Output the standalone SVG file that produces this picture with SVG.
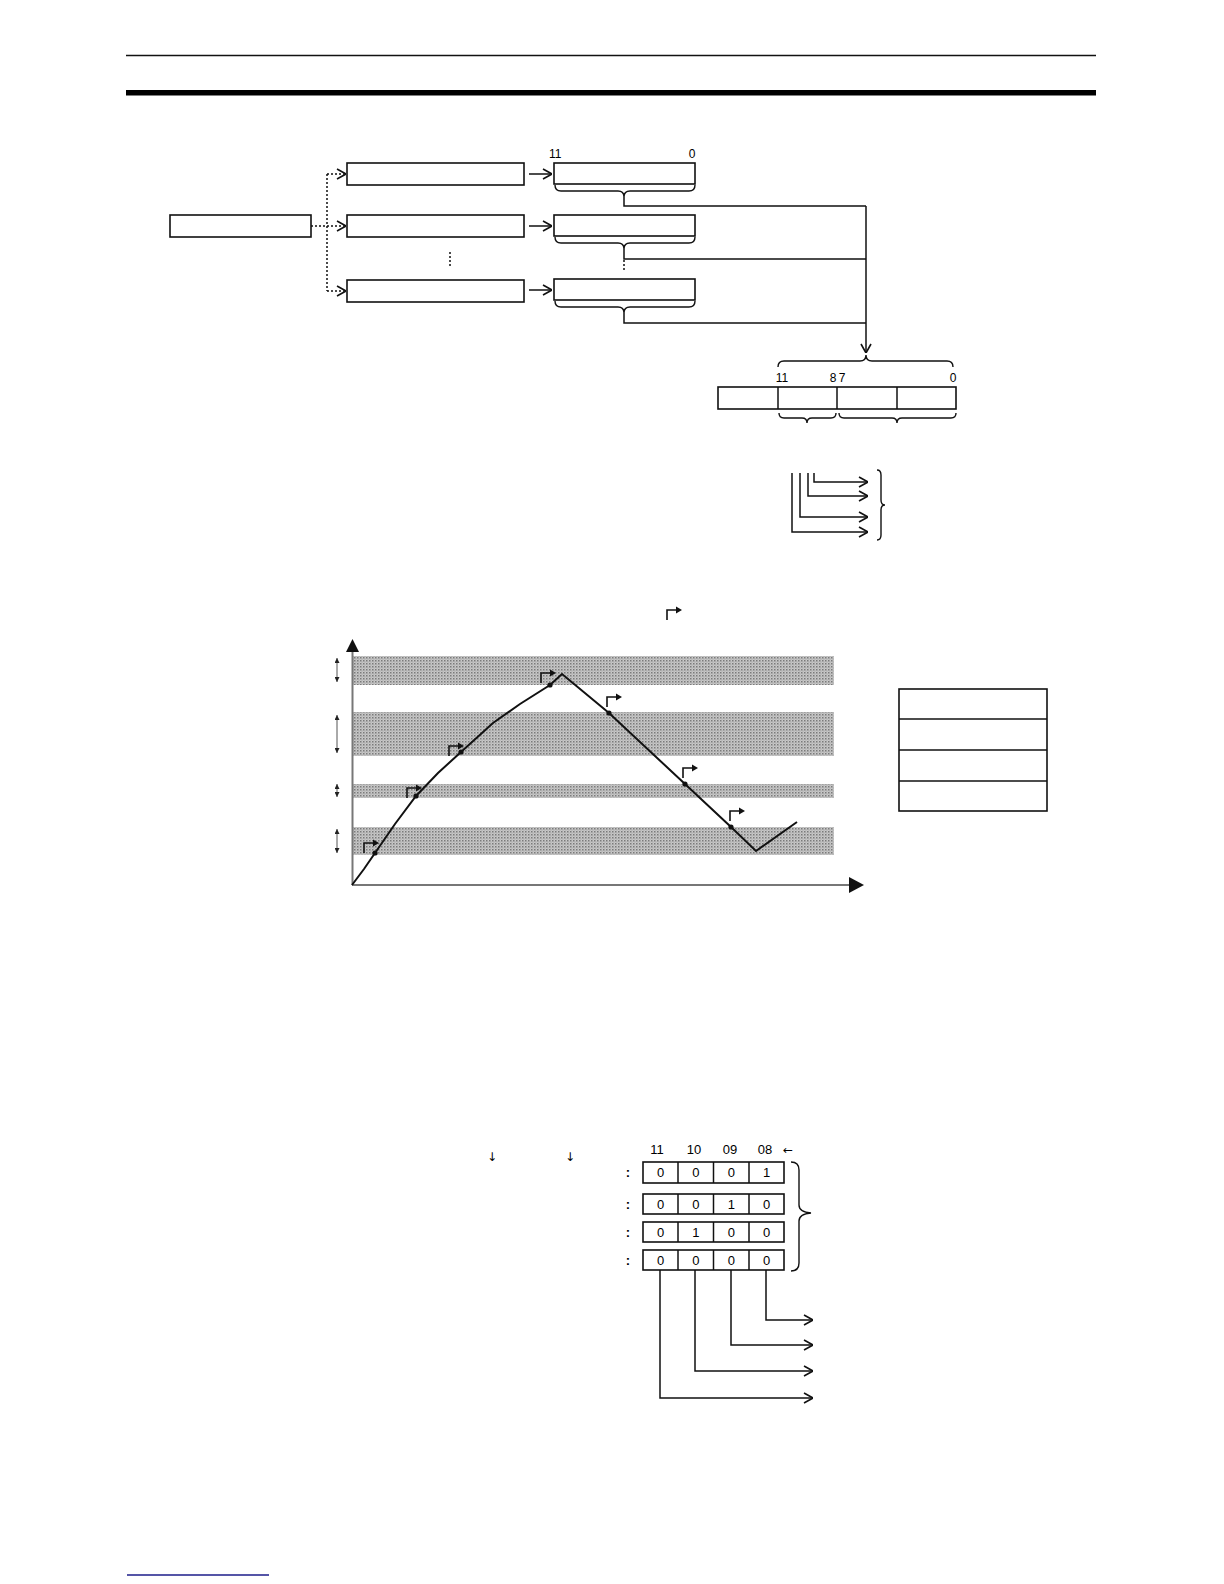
<svg xmlns="http://www.w3.org/2000/svg" xmlns:xlink="http://www.w3.org/1999/xlink" width="1224" height="1584" viewBox="0 0 1224 1584">
<style>
.box{fill:#fff;stroke:#111;stroke-width:1.6}
.ln{fill:none;stroke:#111;stroke-width:1.5}
.dot{fill:none;stroke:#111;stroke-width:1.5;stroke-dasharray:2,2}
.brace{fill:none;stroke:#111;stroke-width:1.4}
.t{font-family:"Liberation Sans",Arial,sans-serif;font-size:12px;fill:#000}
.v{font-family:"Liberation Sans",Arial,sans-serif;font-size:13px;fill:#000;text-anchor:middle}
.ar{font-family:"DejaVu Sans",sans-serif;font-size:12px;fill:#000;text-anchor:middle}
.band{fill:url(#stip)}
.axis{stroke:#777;stroke-width:2;fill:none}
.dbl{stroke:#555;stroke-width:1;fill:none}
</style>
<defs>
<marker id="oa" viewBox="0 0 10 12" refX="10" refY="6" markerWidth="10" markerHeight="12" markerUnits="userSpaceOnUse" orient="auto"><path d="M1,1 L10,6 L1,11" fill="none" stroke="#111" stroke-width="1.6"/></marker>
<marker id="sa" viewBox="0 0 6 6" refX="6" refY="3" markerWidth="5" markerHeight="5" markerUnits="userSpaceOnUse" orient="auto-start-reverse"><path d="M0,0 L6,3 L0,6 z" fill="#222"/></marker>
<pattern id="stip" width="3" height="3" patternUnits="userSpaceOnUse"><rect width="3" height="3" fill="#c8c8c8"/><rect width="1.5" height="1.5" fill="#7a7a7a"/><rect x="1.5" y="1.5" width="1" height="1" fill="#999"/></pattern>
<g id="flag"><path d="M0,10 V0 H9" fill="none" stroke="#111" stroke-width="1.6"/><path d="M9,-3.5 L15,0 L9,3.5 z" fill="#111"/></g>
</defs>
<rect width="1224" height="1584" fill="#fff"/>

<g id="header">
<line x1="126" y1="55.5" x2="1096" y2="55.5" stroke="#111" stroke-width="1.5"/>
<rect x="126" y="90" width="970" height="5.5" fill="#000"/>
</g>

<g id="nodes-top">
<g id="src"><rect class="box" x="170" y="215" width="141" height="22"/></g>
<g id="mid1"><rect class="box" x="347" y="163" width="177" height="22"/></g>
<g id="mid2"><rect class="box" x="347" y="215" width="177" height="22"/></g>
<g id="mid3"><rect class="box" x="347" y="280" width="177" height="22"/></g>
<g id="reg1"><rect class="box" x="554" y="163" width="141" height="21"/>
<text class="t" x="549" y="158">11</text><text class="t" x="692" y="158" text-anchor="middle">0</text>
<path class="brace" d="M555,185 Q555,191 561,191 L618,191 Q624,191 624,197 Q624,191 630,191 L689,191 Q695,191 695,185"/></g>
<g id="reg2"><rect class="box" x="554" y="215" width="141" height="21"/>
<path class="brace" d="M555,237 Q555,243 561,243 L618,243 Q624,243 624,249 Q624,243 630,243 L689,243 Q695,243 695,237"/></g>
<g id="reg3"><rect class="box" x="554" y="279" width="141" height="21"/>
<path class="brace" d="M555,301 Q555,307 561,307 L618,307 Q624,307 624,313 Q624,307 630,307 L689,307 Q695,307 695,301"/></g>
<g id="outreg">
<path class="brace" d="M778,367 Q778,361 784,361 L860,361 Q866,361 866,355 Q866,361 872,361 L947,361 Q953,361 953,367"/>
<text class="t" x="782" y="382" text-anchor="middle">11</text>
<text class="t" x="833" y="382" text-anchor="middle">8</text>
<text class="t" x="842" y="382" text-anchor="middle">7</text>
<text class="t" x="953" y="382" text-anchor="middle">0</text>
<rect class="box" x="718" y="387" width="238" height="22"/>
<line class="ln" x1="778" y1="387" x2="778" y2="409"/>
<line class="ln" x1="837" y1="387" x2="837" y2="409"/>
<line class="ln" x1="897" y1="387" x2="897" y2="409"/>
<path class="brace" d="M779,413 Q779,418 784,418 L802,418 Q807,418 807,423 Q807,418 812,418 L831,418 Q836,418 836,413"/>
<path class="brace" d="M839,413 Q839,418 844,418 L892,418 Q897,418 897,423 Q897,418 902,418 L951,418 Q956,418 956,413"/>
</g>
<g id="bitouts">
<path class="brace" d="M877,470 Q881,470 881,475 L881,500 Q881,505 885,505 Q881,505 881,510 L881,535 Q881,540 877,540"/>
</g>
</g>

<g id="connectors-top">
<path class="dot" d="M311,226 H327"/>
<path class="dot" d="M327,174 V291"/>
<path class="dot" d="M327,174 H346" marker-end="url(#oa)"/>
<path class="dot" d="M327,226 H346" marker-end="url(#oa)"/>
<path class="dot" d="M327,291 H346" marker-end="url(#oa)"/>
<path class="dot" d="M450,252 V268"/>
<path class="ln" d="M529,174 H552" marker-end="url(#oa)"/>
<path class="ln" d="M529,226 H552" marker-end="url(#oa)"/>
<path class="ln" d="M529,290 H552" marker-end="url(#oa)"/>
<path class="ln" d="M624,197 V206 H866"/>
<path class="ln" d="M624,249 V259 H866"/>
<path class="dot" d="M624,260 V270"/>
<path class="ln" d="M624,313 V323 H866"/>
<path class="ln" d="M866,206 V353" marker-end="url(#oa)"/>
<path class="ln" d="M814,473 V482 H868" marker-end="url(#oa)"/>
<path class="ln" d="M808,473 V496 H868" marker-end="url(#oa)"/>
<path class="ln" d="M800,473 V517 H868" marker-end="url(#oa)"/>
<path class="ln" d="M792,473 V532 H868" marker-end="url(#oa)"/>
</g>

<g id="chart">
<use href="#flag" x="667" y="610"/>
<rect class="band" x="353" y="656" width="481" height="29"/>
<rect class="band" x="353" y="712" width="481" height="44"/>
<rect class="band" x="353" y="784" width="481" height="14"/>
<rect class="band" x="353" y="827" width="481" height="28"/>
<line class="axis" x1="352.5" y1="652" x2="352.5" y2="885"/>
<path d="M346,652 L359,652 L352.5,639 z" fill="#111"/>
<line class="axis" x1="352" y1="885" x2="849" y2="885"/>
<path d="M849,877 L864,885 L849,893 z" fill="#111"/>
<line class="dbl" x1="337" y1="658" x2="337" y2="682" marker-start="url(#sa)" marker-end="url(#sa)"/>
<line class="dbl" x1="337" y1="715" x2="337" y2="753" marker-start="url(#sa)" marker-end="url(#sa)"/>
<line class="dbl" x1="337" y1="784" x2="337" y2="797" marker-start="url(#sa)" marker-end="url(#sa)"/>
<line class="dbl" x1="337" y1="829" x2="337" y2="853" marker-start="url(#sa)" marker-end="url(#sa)"/>
<polyline fill="none" stroke="#111" stroke-width="2" points="352,885 364,869 375,853 395,824 416,796 438,773 461,752 493,723 520,704 550,685 562,674 609,713 685,784 731,827 756,851 797,822"/>
<g fill="#111">
<circle cx="375" cy="853" r="2.6"/><circle cx="416" cy="796" r="2.6"/><circle cx="461" cy="752" r="2.6"/><circle cx="550" cy="685" r="2.6"/><circle cx="609" cy="713" r="2.6"/><circle cx="685" cy="784" r="2.6"/><circle cx="731" cy="827" r="2.6"/>
</g>
<use href="#flag" x="364" y="843"/>
<use href="#flag" x="407" y="788"/>
<use href="#flag" x="449" y="746"/>
<use href="#flag" x="541" y="673"/>
<use href="#flag" x="607" y="697"/>
<use href="#flag" x="683" y="768"/>
<use href="#flag" x="730" y="811"/>
</g>

<g id="legend">
<rect class="box" x="899" y="689" width="148" height="122"/>
<line class="ln" x1="899" y1="719" x2="1047" y2="719"/>
<line class="ln" x1="899" y1="750" x2="1047" y2="750"/>
<line class="ln" x1="899" y1="781" x2="1047" y2="781"/>
</g>

<g id="bottom">
<text class="ar" x="492" y="1161">↓</text>
<text class="ar" x="570" y="1161">↓</text>
<text class="v" x="657" y="1154">11</text>
<text class="v" x="694" y="1154">10</text>
<text class="v" x="730" y="1154">09</text>
<text class="v" x="765" y="1154">08</text>
<text class="ar" x="788" y="1154">←</text>
<g id="row1"><text class="v" x="628" y="1177" font-weight="bold">:</text><rect class="box" x="643" y="1162" width="141" height="21"/>
<line class="ln" x1="678" y1="1162" x2="678" y2="1183"/><line class="ln" x1="713.5" y1="1162" x2="713.5" y2="1183"/><line class="ln" x1="749" y1="1162" x2="749" y2="1183"/>
<text class="v" x="660.5" y="1177">0</text><text class="v" x="695.75" y="1177">0</text><text class="v" x="731.25" y="1177">0</text><text class="v" x="766.5" y="1177">1</text></g>
<g id="row2"><text class="v" x="628" y="1209" font-weight="bold">:</text><rect class="box" x="643" y="1194" width="141" height="20"/>
<line class="ln" x1="678" y1="1194" x2="678" y2="1214"/><line class="ln" x1="713.5" y1="1194" x2="713.5" y2="1214"/><line class="ln" x1="749" y1="1194" x2="749" y2="1214"/>
<text class="v" x="660.5" y="1209">0</text><text class="v" x="695.75" y="1209">0</text><text class="v" x="731.25" y="1209">1</text><text class="v" x="766.5" y="1209">0</text></g>
<g id="row3"><text class="v" x="628" y="1237" font-weight="bold">:</text><rect class="box" x="643" y="1222" width="141" height="20"/>
<line class="ln" x1="678" y1="1222" x2="678" y2="1242"/><line class="ln" x1="713.5" y1="1222" x2="713.5" y2="1242"/><line class="ln" x1="749" y1="1222" x2="749" y2="1242"/>
<text class="v" x="660.5" y="1237">0</text><text class="v" x="695.75" y="1237">1</text><text class="v" x="731.25" y="1237">0</text><text class="v" x="766.5" y="1237">0</text></g>
<g id="row4"><text class="v" x="628" y="1265" font-weight="bold">:</text><rect class="box" x="643" y="1250" width="141" height="20"/>
<line class="ln" x1="678" y1="1250" x2="678" y2="1270"/><line class="ln" x1="713.5" y1="1250" x2="713.5" y2="1270"/><line class="ln" x1="749" y1="1250" x2="749" y2="1270"/>
<text class="v" x="660.5" y="1265">0</text><text class="v" x="695.75" y="1265">0</text><text class="v" x="731.25" y="1265">0</text><text class="v" x="766.5" y="1265">0</text></g>
<path class="brace" d="M791,1162 Q799,1162 799,1170 L799,1205 Q799,1212 811,1213 Q799,1214 799,1221 L799,1263 Q799,1271 791,1271"/>
</g>

<g id="connectors-bottom">
<path class="ln" d="M766,1270 V1320 H813" marker-end="url(#oa)"/>
<path class="ln" d="M731,1270 V1345 H813" marker-end="url(#oa)"/>
<path class="ln" d="M695,1270 V1371 H813" marker-end="url(#oa)"/>
<path class="ln" d="M660,1270 V1398 H813" marker-end="url(#oa)"/>
</g>

<line x1="127" y1="1575" x2="269" y2="1575" stroke="#1c1c8a" stroke-width="1.5"/>
</svg>
